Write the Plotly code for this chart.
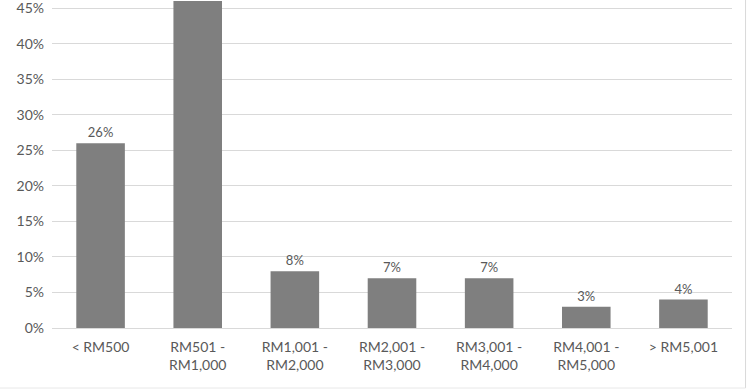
import plotly.graph_objects as go

categories = ["< RM500", "RM501 -<br>RM1,000", "RM1,001 -<br>RM2,000", "RM2,001 -<br>RM3,000",
              "RM3,001 -<br>RM4,000", "RM4,001 -<br>RM5,000", "> RM5,001"]
values = [26, 46, 8, 7, 7, 3, 4]
# the label of the tallest bar lies above the cropped chart top and is not shown
labels = ["26%", "", "8%", "7%", "7%", "3%", "4%"]
tick_vals = [0, 5, 10, 15, 20, 25, 30, 35, 40, 45]
tick_text = [f"{v}%" for v in tick_vals]

fig = go.Figure(go.Bar(
    x=categories, y=values, text=labels, textposition="outside",
    textfont=dict(size=13, color="#595959"),
    marker=dict(color="#7f7f7f", line=dict(width=0)),
    width=0.5, cliponaxis=False, hoverinfo="skip",
))

fig.update_layout(
    width=750, height=392,
    margin=dict(l=52, r=18, t=1, b=64, autoexpand=False),
    paper_bgcolor="white", plot_bgcolor="white",
    font=dict(family="Lato, Open Sans, sans-serif", size=14, color="#595959"),
    showlegend=False,
    xaxis=dict(showgrid=False, showline=True, linecolor="#d9d9d9", linewidth=1,
               ticks="", automargin=False, ticklabelstandoff=6,
               tickfont=dict(size=14, color="#595959")),
    yaxis=dict(range=[0, 46], tickvals=tick_vals, ticktext=tick_text,
               showgrid=True, gridcolor="#d9d9d9", gridwidth=1, zeroline=False,
               showline=False, ticks="", ticklabelstandoff=7, automargin=False,
               ticklabeloverflow="allow",
               tickfont=dict(size=14, color="#595959")),
    shapes=[
        dict(type="line", xref="paper", yref="paper", x0=1.0199, x1=1.0199, y0=1.01, y1=-0.1835,
             line=dict(color="#d9d9d9", width=1)),
        dict(type="line", xref="paper", yref="paper", x0=-0.08, x1=1.0199, y0=-0.1835, y1=-0.1835,
             line=dict(color="#e8e8e8", width=1)),
    ],
)

fig.write_html("out.html", config={"displayModeBar": False},
               post_script="document.body.style.margin='0';")
